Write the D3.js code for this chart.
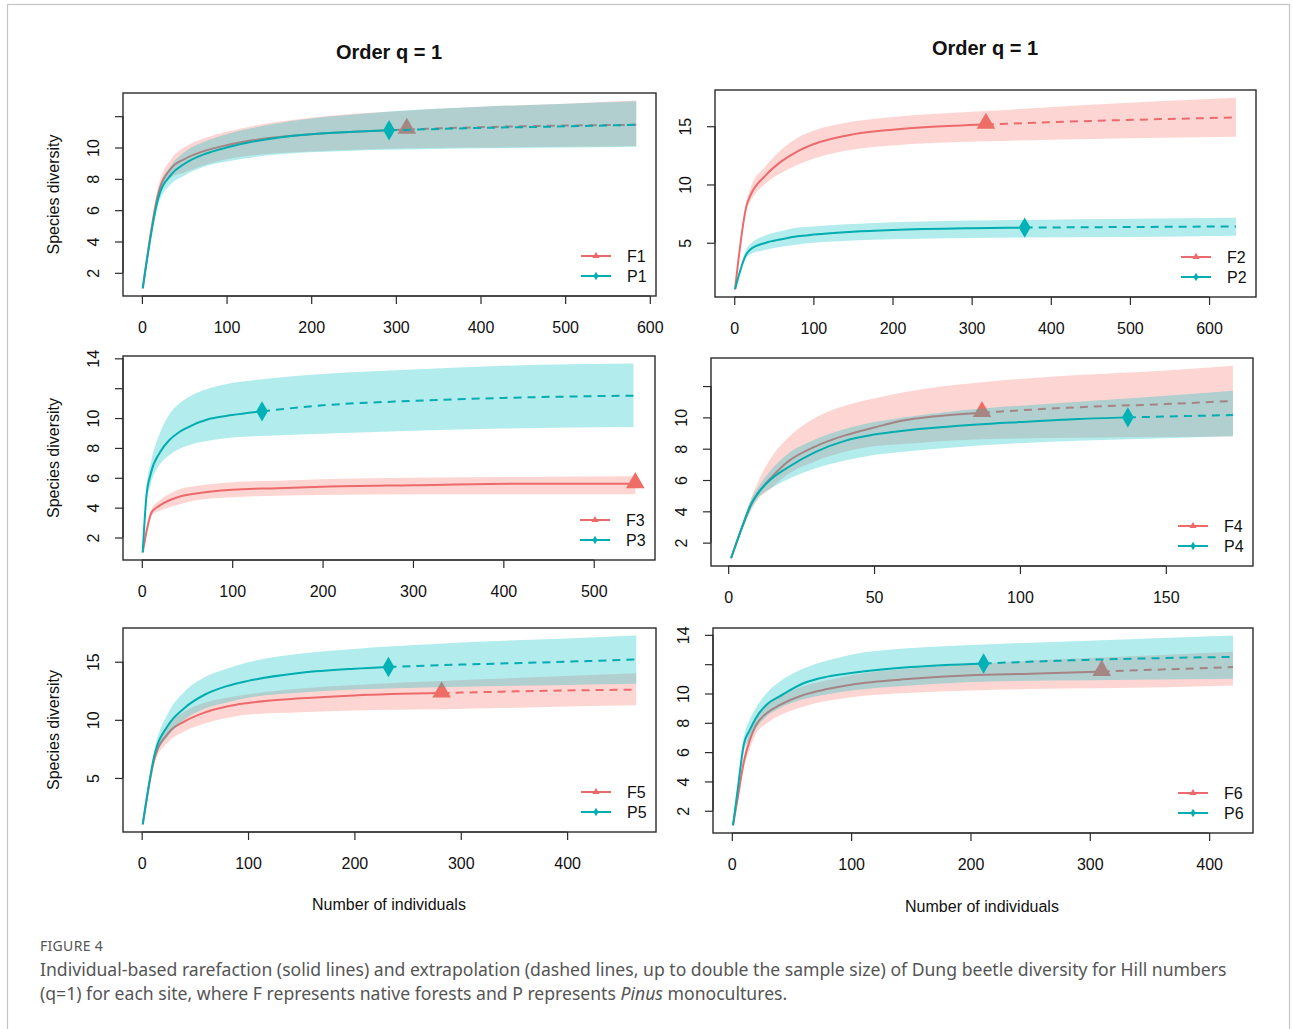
<!DOCTYPE html>
<html>
<head>
<meta charset="utf-8">
<title>Figure 4</title>
<script src="https://d3js.org/d3.v7.min.js"></script>
<style>
  body { margin: 0; background: #fff; }
</style>
</head>
<body>
<script>
// each row: [number of individuals, estimate, lower CI, upper CI]
var F1 = [[1,1,1,1],[19,7.0,6.6,7.4],[35,8.7,8.1,9.3],[50,9.25,8.4,10.0],[75,9.8,8.9,10.6],[100,10.15,9.25,11.0],[150,10.6,9.6,11.55],[200,10.85,9.75,11.9],[250,11.0,9.85,12.15],[313,11.15,9.95,12.35],[400,11.3,10.0,12.6],[500,11.4,10.05,12.8],[584,11.45,10.1,13.0]];
var P1 = [[1,1,1,1],[19,6.7,6.3,7.1],[35,8.3,7.7,8.9],[50,8.95,8.2,9.7],[75,9.6,8.8,10.4],[100,10.0,9.1,10.85],[150,10.55,9.5,11.45],[200,10.85,9.7,11.85],[250,11.0,9.8,12.1],[292,11.1,9.85,12.3],[400,11.25,9.95,12.6],[500,11.35,10.0,12.8],[584,11.45,10.05,12.95]];
var F2 = [[1,1,1,1],[16,8.3,7.9,8.7],[20,9.0,8.5,9.6],[40,10.8,10.1,11.6],[60,12.0,11.0,13.0],[80,12.85,11.7,14.0],[100,13.45,12.2,14.6],[150,14.3,13.0,15.4],[200,14.7,13.35,15.8],[250,14.95,13.55,16.05],[318,15.15,13.7,16.3],[450,15.45,13.9,16.85],[634,15.75,14.1,17.45]];
var P2 = [[1,1,1,1],[16,4.1,3.8,4.5],[20,4.4,4.0,4.85],[40,5.0,4.4,5.65],[60,5.3,4.65,6.0],[80,5.55,4.85,6.3],[100,5.7,5.0,6.4],[150,5.95,5.2,6.6],[200,6.1,5.3,6.75],[300,6.25,5.4,6.9],[367,6.3,5.45,6.95],[500,6.35,5.5,7.05],[634,6.4,5.6,7.15]];
var F3 = [[1,1,1,1],[11,3.7,3.5,3.95],[20,4.15,3.8,4.5],[40,4.7,4.2,5.2],[60,4.95,4.5,5.45],[100,5.2,4.7,5.7],[150,5.3,4.8,5.8],[200,5.4,4.85,5.9],[300,5.5,4.9,6.0],[420,5.6,4.9,6.05],[546,5.6,4.9,6.1]];
var P3 = [[1,1,1,1],[5,4.7,4.2,5.2],[10,6.3,5.6,7.0],[20,7.7,6.9,9.0],[30,8.5,7.5,10.2],[40,9.0,7.9,10.9],[50,9.35,8.15,11.35],[75,9.95,8.5,12.0],[100,10.2,8.7,12.35],[133,10.45,8.8,12.6],[200,10.85,8.95,12.95],[300,11.15,9.15,13.25],[400,11.35,9.3,13.5],[544,11.5,9.4,13.65]];
var F4 = [[1,1,1,1],[5,3.1,2.9,3.3],[8,4.5,4.1,4.9],[10,5.1,4.7,5.8],[15,6.2,5.5,7.5],[20,7.1,6.3,8.6],[30,8.15,7.2,10.0],[40,8.85,7.8,10.75],[50,9.35,8.15,11.2],[60,9.8,8.3,11.6],[70,10.05,8.45,11.9],[87,10.3,8.6,12.25],[120,10.65,8.7,12.7],[150,10.85,8.75,13.0],[173,11.05,8.8,13.3]];
var P4 = [[1,1,1,1],[5,3.1,2.9,3.3],[8,4.5,4.2,4.8],[10,5.1,4.8,5.45],[15,6.1,5.5,6.7],[20,6.75,6.0,7.6],[30,7.8,6.75,8.6],[40,8.5,7.25,9.25],[50,8.9,7.6,9.7],[60,9.15,7.8,10.0],[75,9.4,8.05,10.35],[100,9.7,8.35,10.75],[120,9.9,8.5,11.0],[137,10.0,8.6,11.2],[173,10.15,8.8,11.7]];
var F5 = [[1,1,1,1],[12,6.65,6.3,7.0],[25,8.85,8.1,9.6],[40,9.85,9.0,10.7],[60,10.65,9.7,11.5],[80,11.15,10.15,11.9],[100,11.45,10.45,12.2],[150,11.85,10.65,12.7],[200,12.1,10.8,13.0],[282,12.3,10.9,13.35],[380,12.5,11.1,13.7],[465,12.6,11.25,14.0]];
var P5 = [[1,1,1,1],[12,6.95,6.5,7.4],[25,9.55,8.6,10.6],[40,11.0,10.0,12.4],[60,12.2,11.0,13.7],[80,12.9,11.5,14.4],[100,13.35,11.9,14.95],[150,14.05,12.35,15.7],[200,14.4,12.6,16.1],[232,14.55,12.7,16.3],[300,14.75,12.85,16.65],[400,15.0,13.0,17.0],[465,15.2,13.1,17.25]];
var F6 = [[1,1,1,1],[5,2.9,2.7,3.1],[10,5.3,4.9,5.7],[15,6.8,6.2,7.4],[20,7.8,7.2,8.3],[30,8.7,8.0,9.3],[40,9.2,8.5,9.8],[60,9.9,9.1,10.5],[80,10.3,9.5,10.9],[100,10.6,9.75,11.25],[150,11.0,10.05,11.7],[200,11.25,10.2,12.0],[250,11.35,10.3,12.25],[310,11.5,10.35,12.45],[420,11.8,10.55,12.85]];
var P6 = [[1,1,1,1],[5,3.5,3.3,3.7],[10,6.5,6.0,7.0],[15,7.5,6.9,8.2],[20,8.3,7.6,9.0],[30,9.3,8.5,10.1],[40,9.8,9.0,10.8],[60,10.7,9.6,11.7],[80,11.15,9.95,12.25],[100,11.4,10.2,12.65],[150,11.8,10.55,13.1],[211,12.05,10.8,13.35],[300,12.3,10.9,13.6],[420,12.5,11.0,13.95]];

// observed sample sizes (end of the solid line)
var namesF = ["F1","F2","F3","F4","F5","F6"];
var namesP = ["P1","P2","P3","P4","P5","P6"];
var obsF = [313, 318, 546, 87, 282, 310];
var obsP = [292, 367, 133, 137, 232, 211];

var xTicks = [[0,100,200,300,400,500,600],[0,100,200,300,400,500,600],[0,100,200,300,400,500],[0,50,100,150],[0,100,200,300,400],[0,100,200,300,400]];
var yTicks = [[2,4,6,8,10,12],[5,10,15],[2,4,6,8,10,12,14],[2,4,6,8,10,12],[5,10,15],[2,4,6,8,10,12,14]];
var yLabels = [["2","4","6","8","10",""],["5","10","15"],["2","4","6","8","10","","14"],["2","4","6","8","10",""],["5","10","15"],["2","4","6","8","10","","14"]];

var titles = ["Order q = 1","Order q = 1"];
var xTitle = "Number of individuals";
var yTitle = "Species diversity";

var seriesF = [F1,F2,F3,F4,F5,F6];
var seriesP = [P1,P2,P3,P4,P5,P6];

// plot boxes: left, top, right, bottom
var boxes = [[123,93,656,296],[715,90,1256,297],[123,356,655,560],[711,358,1253,566],[123,628,656,832],[713,628,1253,833]];

var colF = "#EC6A6B", colP = "#00ADB0";
var fillF = "#F8766D", fillP = "#00BFC4";
var font = "'Liberation Sans', Arial, Helvetica, sans-serif";

var svg = d3.select("body").append("svg")
  .attr("width",1293).attr("height",1029)
  .style("font-family",font);

svg.append("rect").attr("width",1293).attr("height",1029).attr("fill","#fff");
svg.append("rect").attr("x",7.5).attr("y",4.5).attr("width",1282).attr("height",1040)
  .attr("fill","none").attr("stroke","#c4c4c4").attr("stroke-width",1.2);

function drawSeries(g, data, n, x, y, line, fill, sym){
  g.append("path").datum(data)
    .attr("d", d3.area().x(d=>x(d[0])).y0(d=>y(d[2])).y1(d=>y(d[3])).curve(d3.curveMonotoneX))
    .attr("fill",fill).attr("fill-opacity",0.3);
  var ln = d3.line().x(d=>x(d[0])).y(d=>y(d[1])).curve(d3.curveMonotoneX);
  g.append("path").datum(data.filter(d=>d[0]<=n))
    .attr("d",ln).attr("fill","none").attr("stroke",line).attr("stroke-width",2);
  var ext = data.filter(d=>d[0]>=n);
  if(ext.length>1){
    g.append("path").datum(ext)
      .attr("d",ln).attr("fill","none").attr("stroke",line).attr("stroke-width",2)
      .attr("stroke-dasharray","8,6");
  }
  var pt = data.find(d=>d[0]==n);
  var s = sym=="tri" ? d3.symbol().type(d3.symbolTriangle).size(150) : d3.symbol().type(d3.symbolDiamond).size(120);
  g.append("path").attr("d",s)
    .attr("transform","translate("+x(pt[0])+","+(y(pt[1])+(sym=="tri"?-1:0))+")")
    .attr("fill", sym=="tri" ? "#EE6E66" : "#00B2B6");
}

for(var i=0;i<6;i++){
  var b = boxes[i];
  var all = seriesF[i].concat(seriesP[i]);
  var xmin = d3.min(all,d=>d[0]), xmax = d3.max(all,d=>d[0]);
  var ymin = d3.min(all,d=>d[2]), ymax = d3.max(all,d=>d[3]);
  var dx = (xmax-xmin)*0.04, dy = (ymax-ymin)*0.04;
  var x = d3.scaleLinear().domain([xmin-dx,xmax+dx]).range([b[0],b[2]]);
  var y = d3.scaleLinear().domain([ymin-dy,ymax+dy]).range([b[3],b[1]]);

  var g = svg.append("g");
  drawSeries(g, seriesF[i], obsF[i], x, y, colF, fillF, "tri");
  drawSeries(g, seriesP[i], obsP[i], x, y, colP, fillP, "dia");

  g.append("rect").attr("x",b[0]).attr("y",b[1]).attr("width",b[2]-b[0]).attr("height",b[3]-b[1])
    .attr("fill","none").attr("stroke","#2b2b2b").attr("stroke-width",1.4);

  // x axis
  var xa = g.append("g").attr("transform","translate(0,"+b[3]+")")
    .call(d3.axisBottom(x).tickValues(xTicks[i]).tickSize(8).tickPadding(18));
  xa.select(".domain").remove();
  xa.append("line").attr("x1",x(xTicks[i][0])).attr("x2",x(xTicks[i][xTicks[i].length-1]))
    .attr("stroke","#2b2b2b").attr("stroke-width",1.2);
  xa.selectAll(".tick line").attr("stroke","#2b2b2b").attr("stroke-width",1.2);
  xa.selectAll("text").attr("font-family",font).attr("font-size",16).attr("fill","#111");

  // y axis
  var lab = yLabels[i];
  var ya = g.append("g").attr("transform","translate("+b[0]+",0)")
    .call(d3.axisLeft(y).tickValues(yTicks[i]).tickFormat((d,j)=>lab[j]).tickSize(8));
  ya.select(".domain").remove();
  ya.append("line").attr("y1",y(yTicks[i][0])).attr("y2",y(yTicks[i][yTicks[i].length-1]))
    .attr("stroke","#2b2b2b").attr("stroke-width",1.2);
  ya.selectAll(".tick line").attr("stroke","#2b2b2b").attr("stroke-width",1.2);
  ya.selectAll("text").attr("x",null).attr("dy",null)
    .attr("text-anchor","middle").attr("transform","translate(-24,0) rotate(-90)")
    .attr("font-family",font).attr("font-size",16).attr("fill","#111");

  // legend
  var leg = [[namesF[i],colF,"tri"],[namesP[i],colP,"dia"]];
  leg.forEach(function(l,k){
    var ly = b[3]-40+k*20;
    g.append("line").attr("x1",b[2]-75).attr("x2",b[2]-45).attr("y1",ly).attr("y2",ly)
      .attr("stroke",l[1]).attr("stroke-width",2);
    g.append("path").attr("d", d3.symbol().type(l[2]=="tri"?d3.symbolTriangle:d3.symbolDiamond).size(22))
      .attr("transform","translate("+(b[2]-60)+","+ly+")").attr("fill",l[1]);
    g.append("text").attr("x",b[2]-29).attr("y",ly+6).attr("font-size",16).attr("fill","#111").text(l[0]);
  });

  if(i%2==0){
    svg.append("text").attr("transform","translate("+(b[0]-64)+","+((b[1]+b[3])/2)+") rotate(-90)")
      .attr("text-anchor","middle").attr("font-size",16).attr("fill","#111").text(yTitle);
  }
}

// titles and x labels
svg.append("text").attr("x",389).attr("y",59).attr("text-anchor","middle")
  .attr("font-size",20).attr("font-weight","bold").attr("fill","#111").text(titles[0]);
svg.append("text").attr("x",985).attr("y",55).attr("text-anchor","middle")
  .attr("font-size",20).attr("font-weight","bold").attr("fill","#111").text(titles[1]);
svg.append("text").attr("x",389).attr("y",910).attr("text-anchor","middle")
  .attr("font-size",16).attr("fill","#111").text(xTitle);
svg.append("text").attr("x",982).attr("y",912).attr("text-anchor","middle")
  .attr("font-size",16).attr("fill","#111").text(xTitle);

// caption
var cap = svg.append("g").style("font-family","'Noto Sans', 'Open Sans', sans-serif").attr("fill","#555");
cap.append("text").attr("x",40).attr("y",951).attr("font-size",14).attr("letter-spacing",0.3).text("FIGURE 4");
cap.append("text").attr("x",40).attr("y",976).attr("font-size",17.6)
  .text("Individual-based rarefaction (solid lines) and extrapolation (dashed lines, up to double the sample size) of Dung beetle diversity for Hill numbers");
var c2 = cap.append("text").attr("x",40).attr("y",1000).attr("font-size",17.6);
c2.append("tspan").text("(q=1) for each site, where F represents native forests and P represents ");
c2.append("tspan").attr("font-style","italic").text("Pinus");
c2.append("tspan").text(" monocultures.");
</script>
</body>
</html>
